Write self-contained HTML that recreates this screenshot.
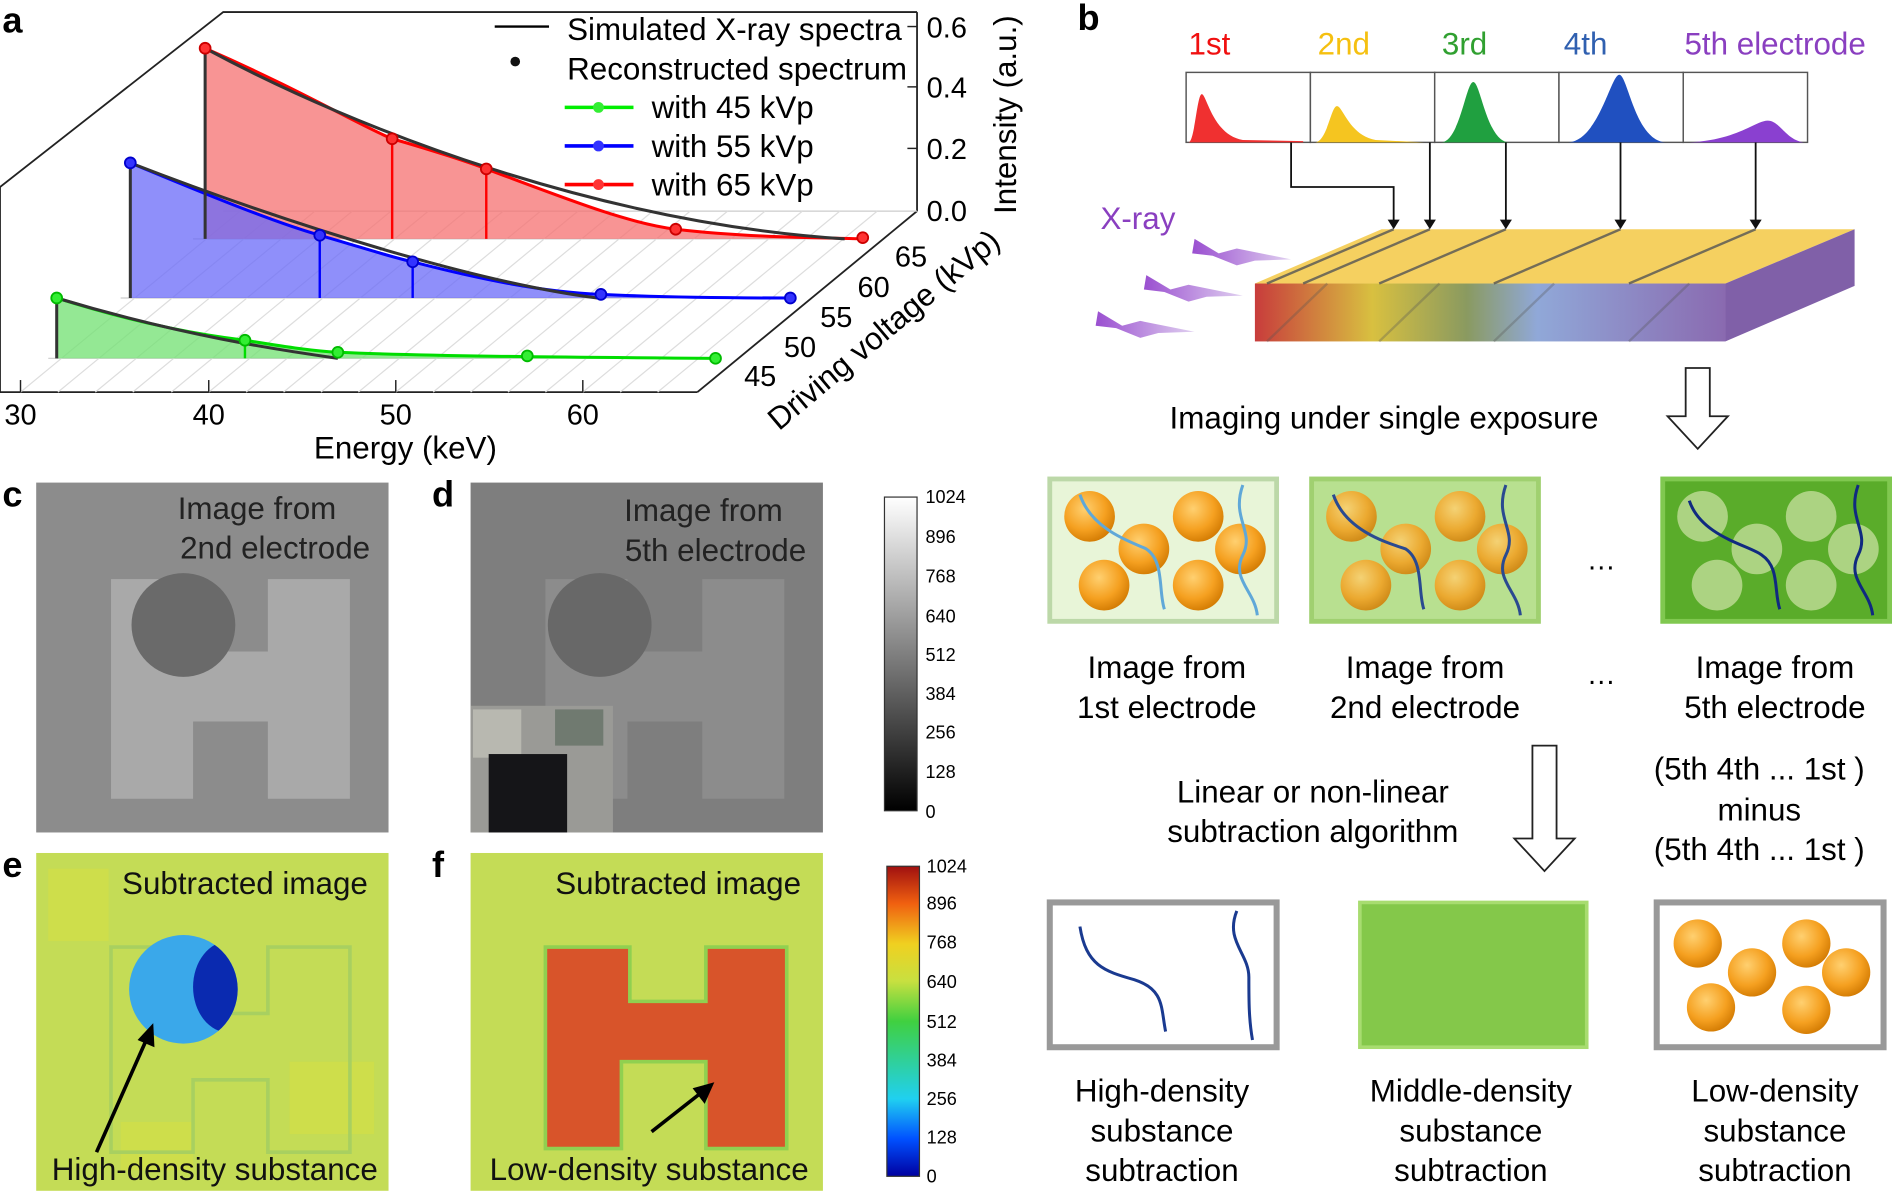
<!DOCTYPE html>
<html><head><meta charset="utf-8"><style>
html,body{margin:0;padding:0;background:#fff;}
svg{display:block;}
text{font-family:"Liberation Sans",sans-serif;}
</style></head><body>
<svg width="1892" height="1192" viewBox="0 0 1568 988" preserveAspectRatio="none" xmlns="http://www.w3.org/2000/svg">
<defs>
<linearGradient id="gbar" x1="0" y1="0" x2="0" y2="1"><stop offset="0" stop-color="#fff"/><stop offset="1" stop-color="#000"/></linearGradient>
<linearGradient id="jet" x1="0" y1="1" x2="0" y2="0">
<stop offset="0" stop-color="#0000a0"/><stop offset="0.12" stop-color="#0050ff"/><stop offset="0.25" stop-color="#20d0f0"/><stop offset="0.5" stop-color="#40d040"/><stop offset="0.63" stop-color="#c8e040"/><stop offset="0.75" stop-color="#f0d020"/><stop offset="0.88" stop-color="#f06010"/><stop offset="1" stop-color="#a01010"/></linearGradient>
<linearGradient id="slab" x1="0" y1="0" x2="1" y2="0">
<stop offset="0" stop-color="#c83c3c"/><stop offset="0.25" stop-color="#d8c040"/><stop offset="0.45" stop-color="#8a9a60"/><stop offset="0.6" stop-color="#90a8d8"/><stop offset="1" stop-color="#8a6ab0"/></linearGradient>
<radialGradient id="orb" cx="0.4" cy="0.35" r="0.7"><stop offset="0" stop-color="#ffd070"/><stop offset="0.6" stop-color="#f5a020"/><stop offset="1" stop-color="#d07800"/></radialGradient>
<linearGradient id="bolt" x1="0" y1="0" x2="1" y2="0"><stop offset="0" stop-color="#9a4fd0"/><stop offset="1" stop-color="#e0d0f0"/></linearGradient>
<clipPath id="cc"><circle cx="152" cy="820" r="45"/></clipPath>
</defs>

<!-- PANEL A -->
<text x="2" y="27" font-size="30" font-weight="bold">a</text>
<g stroke="#222" stroke-width="1.5" fill="none">
<polyline points="0,325 0,155 185,10 760,10"/>
<line x1="0" y1="325" x2="578" y2="325"/>
<line x1="578" y1="325" x2="760" y2="175"/>
<line x1="760" y1="10" x2="760" y2="175"/>
</g>
<g stroke="#ccc" stroke-width="1">
<line x1="40" y1="297" x2="595" y2="297"/><line x1="100" y1="247" x2="655" y2="247"/><line x1="160" y1="198" x2="715" y2="198"/>
<line x1="185" y1="175" x2="760" y2="175"/>
</g>
<g stroke="#ddd" stroke-width="1">
<line x1="17" y1="325" x2="199" y2="175"/><line x1="48" y1="325" x2="230" y2="175"/><line x1="79" y1="325" x2="261" y2="175"/><line x1="110" y1="325" x2="292" y2="175"/><line x1="142" y1="325" x2="324" y2="175"/><line x1="173" y1="325" x2="355" y2="175"/><line x1="204" y1="325" x2="386" y2="175"/><line x1="235" y1="325" x2="417" y2="175"/><line x1="266" y1="325" x2="448" y2="175"/><line x1="297" y1="325" x2="479" y2="175"/><line x1="328" y1="325" x2="510" y2="175"/><line x1="359" y1="325" x2="541" y2="175"/><line x1="390" y1="325" x2="572" y2="175"/><line x1="421" y1="325" x2="603" y2="175"/><line x1="452" y1="325" x2="634" y2="175"/><line x1="483" y1="325" x2="665" y2="175"/><line x1="514" y1="325" x2="696" y2="175"/><line x1="545" y1="325" x2="727" y2="175"/>
</g>
<g stroke="#222" stroke-width="1.2">
<line x1="17" y1="325" x2="17" y2="315"/><line x1="173" y1="325" x2="173" y2="315"/><line x1="328" y1="325" x2="328" y2="315"/><line x1="483" y1="325" x2="483" y2="315"/>
<line x1="760" y1="22" x2="752" y2="22"/><line x1="760" y1="72" x2="752" y2="72"/><line x1="760" y1="123" x2="752" y2="123"/>
</g>
<path d="M170,198 L170,40 C250,75 300,105 325,115 C360,125 390,135 403,140 C470,165 520,185 560,190 C620,197 680,197 715,198 L170,198 Z" fill="#f57070" fill-opacity="0.75"/>
<path d="M170,40 C250,75 300,105 325,115 C360,125 390,135 403,140 C470,165 520,185 560,190 C620,197 680,197 715,198" stroke="#f00" stroke-width="2.5" fill="none"/>
<g stroke="#f00" stroke-width="2"><line x1="325" y1="115" x2="325" y2="198"/><line x1="403" y1="140" x2="403" y2="198"/></g>
<path d="M108,247 L108,135 C180,165 230,185 265,195 C300,205 320,212 342,217 C400,232 450,242 498,244 C560,247 620,247 655,247 L108,247 Z" fill="#6a6af8" fill-opacity="0.75"/>
<path d="M108,135 C180,165 230,185 265,195 C300,205 320,212 342,217 C400,232 450,242 498,244 C560,247 620,247 655,247" stroke="#00f" stroke-width="2.5" fill="none"/>
<g stroke="#00f" stroke-width="2"><line x1="265" y1="195" x2="265" y2="247"/><line x1="342" y1="217" x2="342" y2="247"/></g>
<path d="M47,297 L47,247 C120,270 170,278 203,282 C240,288 260,291 280,292 C350,295 450,296 595,297 Z" fill="#70e070" fill-opacity="0.75"/>
<path d="M47,247 C120,270 170,278 203,282 C240,288 260,291 280,292 C350,295 450,296 595,297" stroke="#0d0" stroke-width="2.5" fill="none"/>
<line x1="203" y1="282" x2="203" y2="297" stroke="#0d0" stroke-width="2"/>
<g stroke="#333" stroke-width="2.5" fill="none">
<path d="M170,198 L170,40 C300,110 500,185 700,198"/>
<path d="M108,247 L108,135 C250,190 400,235 495,247"/>
<path d="M47,297 L47,247 C150,278 230,290 280,297"/>
</g>
<g stroke-width="1.5" fill="#fff">
<g fill="#f33" stroke="#c00"><circle cx="170" cy="40" r="4.5"/><circle cx="325" cy="115" r="4.5"/><circle cx="403" cy="140" r="4.5"/><circle cx="560" cy="190" r="4.5"/><circle cx="715" cy="197" r="4.5"/></g>
<g fill="#33f" stroke="#00c"><circle cx="108" cy="135" r="4.5"/><circle cx="265" cy="195" r="4.5"/><circle cx="342" cy="217" r="4.5"/><circle cx="498" cy="244" r="4.5"/><circle cx="655" cy="247" r="4.5"/></g>
<g fill="#3e3" stroke="#0b0"><circle cx="47" cy="247" r="4.5"/><circle cx="203" cy="282" r="4.5"/><circle cx="280" cy="292" r="4.5"/><circle cx="437" cy="295" r="4.5"/><circle cx="593" cy="297" r="4.5"/></g>
</g>
<line x1="410" y1="22" x2="455" y2="22" stroke="#000" stroke-width="2"/>
<text x="470" y="33" font-size="26">Simulated X-ray spectra</text>
<circle cx="427" cy="51" r="4" fill="#111"/>
<text x="470" y="66" font-size="26">Reconstructed spectrum</text>
<line x1="468" y1="89" x2="525" y2="89" stroke="#0e0" stroke-width="3"/><circle cx="496" cy="89" r="4.5" fill="#3e3"/>
<text x="540" y="98" font-size="26">with 45 kVp</text>
<line x1="468" y1="121" x2="525" y2="121" stroke="#00f" stroke-width="3"/><circle cx="496" cy="121" r="4.5" fill="#33f"/>
<text x="540" y="130" font-size="26">with 55 kVp</text>
<line x1="468" y1="153" x2="525" y2="153" stroke="#f00" stroke-width="3"/><circle cx="496" cy="153" r="4.5" fill="#f33"/>
<text x="540" y="162" font-size="26">with 65 kVp</text>
<g font-size="24">
<text x="768" y="31">0.6</text><text x="768" y="81">0.4</text><text x="768" y="132">0.2</text><text x="768" y="183">0.0</text>
<text x="17" y="352" text-anchor="middle">30</text><text x="173" y="352" text-anchor="middle">40</text><text x="328" y="352" text-anchor="middle">50</text><text x="483" y="352" text-anchor="middle">60</text>
<text x="630" y="320" text-anchor="middle">45</text><text x="663" y="296" text-anchor="middle">50</text><text x="693" y="271" text-anchor="middle">55</text><text x="724" y="246" text-anchor="middle">60</text><text x="755" y="221" text-anchor="middle">65</text>
</g>
<text x="336" y="380" font-size="26" text-anchor="middle">Energy (keV)</text>
<text transform="translate(842,95) rotate(-90)" font-size="26" text-anchor="middle">Intensity (a.u.)</text>
<text transform="translate(738,280) rotate(-40)" font-size="26" text-anchor="middle">Driving voltage (kVp)</text>

<!-- PANEL B -->
<text x="893" y="25" font-size="30" font-weight="bold">b</text>
<g font-size="26">
<text x="985" y="45" fill="#f01010">1st</text><text x="1092" y="45" fill="#f5c010">2nd</text><text x="1195" y="45" fill="#30a030">3rd</text><text x="1296" y="45" fill="#3060b0">4th</text><text x="1396" y="45" fill="#8a3fc0">5th electrode</text>
</g>
<g fill="#fff" stroke="#555" stroke-width="1.2">
<rect x="983" y="60" width="103" height="58"/><rect x="1086" y="60" width="103" height="58"/><rect x="1189" y="60" width="103" height="58"/><rect x="1292" y="60" width="103" height="58"/><rect x="1395" y="60" width="103" height="58"/>
</g>
<path d="M985,118 C990,118 992,78 996,78 C1000,78 1005,112 1030,116 L1080,117 L1080,118Z" fill="#f03030"/>
<path d="M1090,118 C1100,117 1103,88 1108,88 C1113,88 1118,112 1140,116 L1180,118Z" fill="#f5c520"/>
<path d="M1195,118 C1210,116 1215,68 1221,68 C1227,68 1232,116 1250,118Z" fill="#20a040"/>
<path d="M1300,118 C1325,116 1335,62 1342,62 C1349,62 1355,116 1380,118Z" fill="#2050c0"/>
<path d="M1400,118 C1440,116 1455,100 1465,100 C1475,100 1480,116 1495,118Z" fill="#8a40d0"/>
<g stroke="#111" stroke-width="1.5" fill="none">
<polyline points="1070,118 1070,155 1155,155 1155,185"/>
<line x1="1185" y1="118" x2="1185" y2="185"/><line x1="1248" y1="118" x2="1248" y2="185"/><line x1="1343" y1="118" x2="1343" y2="185"/><line x1="1455" y1="118" x2="1455" y2="185"/>
</g>
<g fill="#111"><polygon points="1150,182 1160,182 1155,190"/><polygon points="1180,182 1190,182 1185,190"/><polygon points="1243,182 1253,182 1248,190"/><polygon points="1338,182 1348,182 1343,190"/><polygon points="1450,182 1460,182 1455,190"/></g>
<polygon points="1040,235 1430,235 1537,190 1145,190" fill="#f5d060"/>
<rect x="1040" y="235" width="390" height="48" fill="url(#slab)"/>
<polygon points="1430,235 1537,190 1537,237 1430,283" fill="#8060a8"/>
<g stroke="#555" stroke-width="2" opacity="0.8">
<line x1="1155" y1="190" x2="1050" y2="235"/><line x1="1185" y1="190" x2="1080" y2="235"/><line x1="1248" y1="190" x2="1143" y2="235"/><line x1="1343" y1="190" x2="1238" y2="235"/><line x1="1455" y1="190" x2="1350" y2="235"/>
<line x1="1050" y1="283" x2="1100" y2="235" opacity="0.4"/><line x1="1143" y1="283" x2="1193" y2="235" opacity="0.4"/><line x1="1238" y1="283" x2="1288" y2="235" opacity="0.4"/><line x1="1350" y1="283" x2="1400" y2="235" opacity="0.4"/>
</g>
<text x="912" y="190" font-size="26" fill="#8a3fc0">X-ray</text>
<g fill="url(#bolt)">
<polygon points="990,198 1010,210 1025,206 1070,215 1040,216 1025,220 1005,212 988,210"/>
<polygon points="950,228 970,240 985,236 1030,245 1000,246 985,250 965,242 948,240"/>
<polygon points="910,258 930,270 945,266 990,275 960,276 945,280 925,272 908,270"/>
</g>
<polygon points="1397,305 1417,305 1417,345 1432,345 1407,372 1382,345 1397,345" fill="#fff" stroke="#222" stroke-width="1.5"/>
<text x="1147" y="355" font-size="26" text-anchor="middle">Imaging under single exposure</text>
<rect x="870" y="397" width="188" height="118" fill="#e8f5d8" stroke="#bcd8a8" stroke-width="4"/>
<rect x="1087" y="397" width="188" height="118" fill="#b8e090" stroke="#a0d070" stroke-width="4"/>
<rect x="1378" y="397" width="188" height="118" fill="#5aac2a" stroke="#80c850" stroke-width="4"/>
<g fill="url(#orb)">
<circle cx="903" cy="428" r="21"/><circle cx="948" cy="455" r="21"/><circle cx="993" cy="428" r="21"/><circle cx="1028" cy="455" r="21"/><circle cx="915" cy="485" r="21"/><circle cx="993" cy="485" r="21"/>
</g>
<g fill="url(#orb)" opacity="0.85">
<circle cx="1120" cy="428" r="21"/><circle cx="1165" cy="455" r="21"/><circle cx="1210" cy="428" r="21"/><circle cx="1245" cy="455" r="21"/><circle cx="1132" cy="485" r="21"/><circle cx="1210" cy="485" r="21"/>
</g>
<g fill="#c8e0a0" opacity="0.75">
<circle cx="1411" cy="428" r="21"/><circle cx="1456" cy="455" r="21"/><circle cx="1501" cy="428" r="21"/><circle cx="1536" cy="455" r="21"/><circle cx="1423" cy="485" r="21"/><circle cx="1501" cy="485" r="21"/>
</g>
<g fill="none" stroke-width="2.5">
<path d="M895,410 C905,440 940,450 950,455 C965,465 960,490 965,505" stroke="#60a8d8"/>
<path d="M1030,402 C1020,430 1040,440 1030,460 C1020,480 1040,490 1042,510" stroke="#60a8d8"/>
<path d="M1105,410 C1115,440 1150,450 1165,455 C1180,465 1175,490 1180,505" stroke="#2a4a90"/>
<path d="M1248,402 C1238,430 1258,440 1248,460 C1238,480 1258,490 1260,510" stroke="#2a4a90"/>
<path d="M1400,415 C1410,445 1450,452 1460,460 C1475,470 1470,490 1475,505" stroke="#102a80"/>
<path d="M1540,402 C1530,430 1550,440 1540,460 C1530,480 1550,490 1552,510" stroke="#102a80"/>
</g>
<text x="1327" y="472" font-size="24" text-anchor="middle">…</text>
<text x="1327" y="567" font-size="24" text-anchor="middle">…</text>
<g font-size="26" text-anchor="middle">
<text x="967" y="562">Image from</text><text x="967" y="595">1st electrode</text>
<text x="1181" y="562">Image from</text><text x="1181" y="595">2nd electrode</text>
<text x="1471" y="562">Image from</text><text x="1471" y="595">5th electrode</text>
<text x="1088" y="665">Linear or non-linear</text><text x="1088" y="698">subtraction algorithm</text>
<text x="1458" y="646">(5th 4th ... 1st )</text><text x="1458" y="680">minus</text><text x="1458" y="713">(5th 4th ... 1st )</text>
<text x="963" y="913">High-density</text><text x="963" y="946">substance</text><text x="963" y="979">subtraction</text>
<text x="1219" y="913">Middle-density</text><text x="1219" y="946">substance</text><text x="1219" y="979">subtraction</text>
<text x="1471" y="913">Low-density</text><text x="1471" y="946">substance</text><text x="1471" y="979">subtraction</text>
</g>
<polygon points="1270,618 1290,618 1290,695 1305,695 1280,722 1255,695 1270,695" fill="#fff" stroke="#222" stroke-width="1.5"/>
<rect x="870" y="748" width="188" height="120" fill="#fff" stroke="#999" stroke-width="5"/>
<rect x="1127" y="748" width="188" height="120" fill="#84c84a" stroke="#a8dc70" stroke-width="3"/>
<rect x="1373" y="748" width="188" height="120" fill="#fff" stroke="#999" stroke-width="5"/>
<g fill="none" stroke="#1a3a90" stroke-width="2.5">
<path d="M895,768 C900,800 915,805 940,812 C965,820 962,835 966,855"/>
<path d="M1025,755 C1015,780 1035,790 1035,810 C1035,830 1035,845 1038,862"/>
</g>
<g fill="url(#orb)">
<circle cx="1407" cy="782" r="20"/><circle cx="1452" cy="806" r="20"/><circle cx="1497" cy="782" r="20"/><circle cx="1530" cy="806" r="20"/><circle cx="1418" cy="835" r="20"/><circle cx="1497" cy="837" r="20"/>
</g>

<!-- PANEL C -->
<text x="2" y="420" font-size="30" font-weight="bold">c</text>
<rect x="30" y="400" width="292" height="290" fill="#8c8c8c"/>
<path d="M92,480 H160 V540 H222 V480 H290 V662 H222 V598 H160 V662 H92 Z" fill="#a9a9a9"/>
<circle cx="152" cy="518" r="43" fill="#6a6a6a"/>
<text x="213" y="430" font-size="26" text-anchor="middle" fill="#222">Image from</text>
<text x="228" y="463" font-size="26" text-anchor="middle" fill="#222">2nd electrode</text>
<!-- PANEL D -->
<text x="358" y="420" font-size="30" font-weight="bold">d</text>
<rect x="390" y="400" width="292" height="290" fill="#7e7e7e"/>
<path d="M452,480 H520 V540 H582 V480 H650 V662 H582 V598 H520 V662 H452 Z" fill="#8c8c8c"/>
<circle cx="497" cy="518" r="43" fill="#686868"/>
<rect x="390" y="585" width="118" height="105" fill="#9a9a96"/>
<rect x="392" y="588" width="40" height="40" fill="#b8b8b0"/>
<rect x="460" y="588" width="40" height="30" fill="#707a70"/>
<rect x="405" y="625" width="65" height="65" fill="#151518"/>
<text x="583" y="432" font-size="26" text-anchor="middle" fill="#222">Image from</text>
<text x="593" y="465" font-size="26" text-anchor="middle" fill="#222">5th electrode</text>
<rect x="733" y="412" width="27" height="260" fill="url(#gbar)" stroke="#333" stroke-width="1"/>
<g font-size="15">
<text x="767" y="417">1024</text><text x="767" y="450">896</text><text x="767" y="483">768</text><text x="767" y="516">640</text><text x="767" y="548">512</text><text x="767" y="580">384</text><text x="767" y="612">256</text><text x="767" y="645">128</text><text x="767" y="678">0</text>
</g>
<!-- PANEL E -->
<text x="2" y="727" font-size="30" font-weight="bold">e</text>
<rect x="30" y="707" width="292" height="280" fill="#c4dc56"/>
<g fill="#d8e040" opacity="0.5"><rect x="40" y="720" width="50" height="60"/><rect x="240" y="880" width="70" height="60"/><rect x="100" y="930" width="60" height="40"/></g>
<path d="M92,785 H160 V840 H222 V785 H290 V955 H222 V895 H160 V955 H92 Z" fill="none" stroke="#a8d060" stroke-width="3"/>
<circle cx="152" cy="820" r="45" fill="#3aa8ea"/>
<ellipse cx="190" cy="818" rx="30" ry="38" fill="#0a2ab0" clip-path="url(#cc)"/>
<line x1="80" y1="955" x2="123" y2="858" stroke="#000" stroke-width="3"/>
<polygon points="127,848 128,868 114,862" fill="#000"/>
<text x="203" y="741" font-size="26" text-anchor="middle" fill="#111">Subtracted image</text>
<text x="178" y="978" font-size="26" text-anchor="middle" fill="#111">High-density substance</text>
<!-- PANEL F -->
<text x="358" y="727" font-size="30" font-weight="bold">f</text>
<rect x="390" y="707" width="292" height="280" fill="#c4dc56"/>
<path d="M452,785 H522 V830 H585 V785 H652 V952 H585 V880 H515 V952 H452 Z" fill="#d8542a" stroke="#90d050" stroke-width="3"/>
<line x1="540" y1="938" x2="582" y2="905" stroke="#000" stroke-width="3"/>
<polygon points="592,897 584,915 574,902" fill="#000"/>
<text x="562" y="741" font-size="26" text-anchor="middle" fill="#111">Subtracted image</text>
<text x="538" y="978" font-size="26" text-anchor="middle" fill="#111">Low-density substance</text>
<rect x="735" y="718" width="27" height="257" fill="url(#jet)" stroke="#333" stroke-width="1"/>
<g font-size="15">
<text x="768" y="723">1024</text><text x="768" y="754">896</text><text x="768" y="786">768</text><text x="768" y="819">640</text><text x="768" y="852">512</text><text x="768" y="884">384</text><text x="768" y="916">256</text><text x="768" y="948">128</text><text x="768" y="980">0</text>
</g>
</svg>
</body></html>
